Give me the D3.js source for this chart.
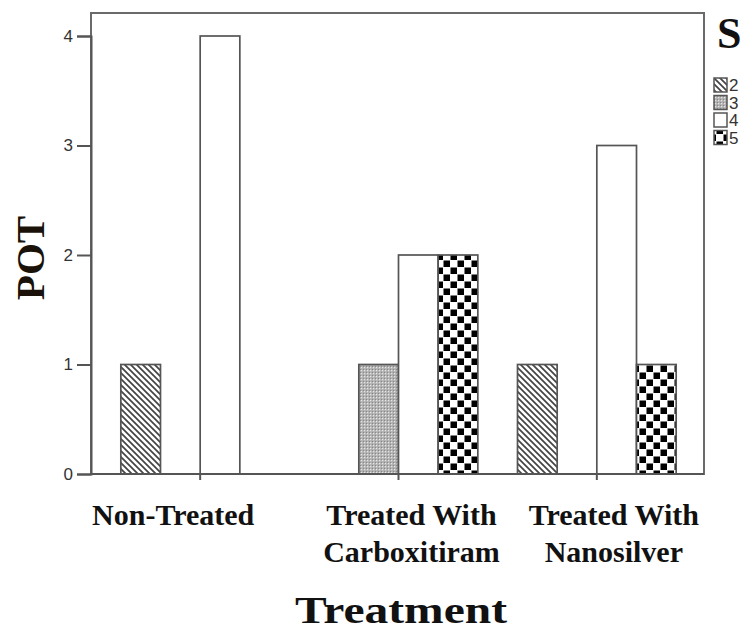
<!DOCTYPE html>
<html><head><meta charset="utf-8">
<script src="https://cdn.jsdelivr.net/npm/d3@7"></script>
<style>html,body{margin:0;padding:0;background:#fff;}</style>
</head><body>
<svg id="c" width="756" height="630"></svg>
<script>
const categories = [["Non-Treated"], ["Treated With", "Carboxitiram"], ["Treated With", "Nanosilver"]];
const seriesNames = ["2", "3", "4", "5"];
const values = [
  [1, 0, 4, 0],
  [0, 1, 2, 2],
  [1, 0, 3, 1]
];
const yTicks = [0, 1, 2, 3, 4];
const xTitle = "Treatment";
const yTitle = "POT";
const legendTitle = "S";

const svg = d3.select("#c");
const defs = svg.append("defs");
// pattern 2: diagonal hatch
const p2 = defs.append("pattern").attr("id","p2").attr("patternUnits","userSpaceOnUse")
  .attr("width",6).attr("height",6);
p2.append("rect").attr("width",6).attr("height",6).attr("fill","#fff");
p2.append("path").attr("d","M-1,-1 L7,7 M-4,2 L4,10 M2,-4 L10,4").attr("stroke","#444").attr("stroke-width",1.7);
// pattern 3: fine stipple
const p3 = defs.append("pattern").attr("id","p3").attr("patternUnits","userSpaceOnUse")
  .attr("width",3).attr("height",3);
p3.append("rect").attr("width",3).attr("height",3).attr("fill","#b0b0b0");
p3.append("rect").attr("x",1).attr("y",1).attr("width",1.2).attr("height",1.2).attr("fill","#e6e6e6");
p3.append("rect").attr("x",0).attr("y",0).attr("width",1).attr("height",1).attr("fill","#888");
// pattern 5: checker
const p5 = defs.append("pattern").attr("id","p5").attr("patternUnits","userSpaceOnUse")
  .attr("width",14).attr("height",14).attr("x",2).attr("y",1);
p5.append("rect").attr("width",14).attr("height",14).attr("fill","#fff");
p5.append("rect").attr("x",0.5).attr("y",0.5).attr("width",6.5).attr("height",6.5).attr("fill","#000");
p5.append("rect").attr("x",7.5).attr("y",7.5).attr("width",6.5).attr("height",6.5).attr("fill","#000");
const fills = ["url(#p2)","url(#p3)","#fff","url(#p5)"];

const frame = {l:91, r:704, t:13, b:474};
const catKeys = categories.map(d => d.join(" "));
const x0 = d3.scaleBand().domain(catKeys).range([101, 696]).paddingInner(0.2).paddingOuter(0.1);
const x1 = d3.scaleBand().domain(seriesNames).range([0, x0.bandwidth()]).padding(0);
const y = d3.scaleLinear().domain([0, 4]).range([frame.b, 36]);

// frame
svg.append("rect").attr("x",frame.l).attr("y",frame.t).attr("width",frame.r-frame.l).attr("height",frame.b-frame.t)
  .attr("fill","none").attr("stroke","#6a6a6a").attr("stroke-width",2);

// bars
const g = svg.append("g");
values.forEach((row, i) => {
  row.forEach((v, j) => {
    g.append("rect")
      .attr("x", x0(catKeys[i]) + x1(seriesNames[j]))
      .attr("y", y(v))
      .attr("width", x1.bandwidth())
      .attr("height", y(0) - y(v))
      .attr("fill", fills[j])
      .attr("stroke", "#555").attr("stroke-width", 1.7);
  });
});

// y axis
const yAxis = d3.axisLeft(y).tickValues(yTicks).tickFormat(d3.format("d")).tickSize(14).tickPadding(4);
const ya = svg.append("g").attr("transform",`translate(${frame.l},0)`).call(yAxis);
ya.select(".domain").attr("stroke","#555").attr("stroke-width",2);
ya.selectAll(".tick line").attr("stroke","#555").attr("stroke-width",2);
ya.selectAll(".tick text").attr("font-family","Liberation Sans, Arial, sans-serif").attr("font-size",17).attr("fill","#333");

// x axis
const xAxis = d3.axisBottom(x0).tickSize(6).tickFormat("");
const xa = svg.append("g").attr("transform",`translate(0,${frame.b})`).call(xAxis);
xa.select(".domain").remove();
xa.selectAll(".tick line").attr("stroke","#555").attr("stroke-width",2);
svg.append("line").attr("x1",frame.l).attr("x2",frame.r).attr("y1",frame.b).attr("y2",frame.b)
  .attr("stroke","#555").attr("stroke-width",2);

// category labels
const labelShift = [-27, 13, 17];
const serif = "Liberation Serif, 'Times New Roman', serif";
categories.forEach((lines, i) => {
  const cx = x0(catKeys[i]) + x0.bandwidth()/2 + labelShift[i];
  lines.forEach((t, k) => {
    svg.append("text").attr("x", cx).attr("y", 525 + k*37)
      .attr("text-anchor","middle").attr("font-family",serif).attr("font-weight","bold")
      .attr("font-size",30).attr("fill","#111").text(t);
  });
});

// axis titles
svg.append("text").attr("x",401).attr("y",623).attr("text-anchor","middle")
  .attr("font-family",serif).attr("font-weight","bold").attr("font-size",37).attr("fill","#111")
  .attr("textLength",212).attr("lengthAdjust","spacingAndGlyphs").text(xTitle);
svg.append("text").attr("transform","translate(44,258) rotate(-90)").attr("text-anchor","middle")
  .attr("font-family",serif).attr("font-weight","bold").attr("font-size",41).attr("fill","#1a1208")
  .text(yTitle);

// legend
svg.append("text").attr("x",717).attr("y",48).attr("font-family",serif).attr("font-weight","bold")
  .attr("font-size",44).attr("fill","#111").text(legendTitle);
seriesNames.forEach((s, j) => {
  const yy = 78 + j*17.5;
  svg.append("rect").attr("x",714).attr("y",yy).attr("width",13).attr("height",14)
    .attr("fill",fills[j]).attr("stroke","#555").attr("stroke-width",1.5);
  svg.append("text").attr("x",729).attr("y",yy+13).attr("font-family","Liberation Sans, Arial, sans-serif")
    .attr("font-size",17).attr("fill","#333").text(s);
});
</script>
</body></html>
